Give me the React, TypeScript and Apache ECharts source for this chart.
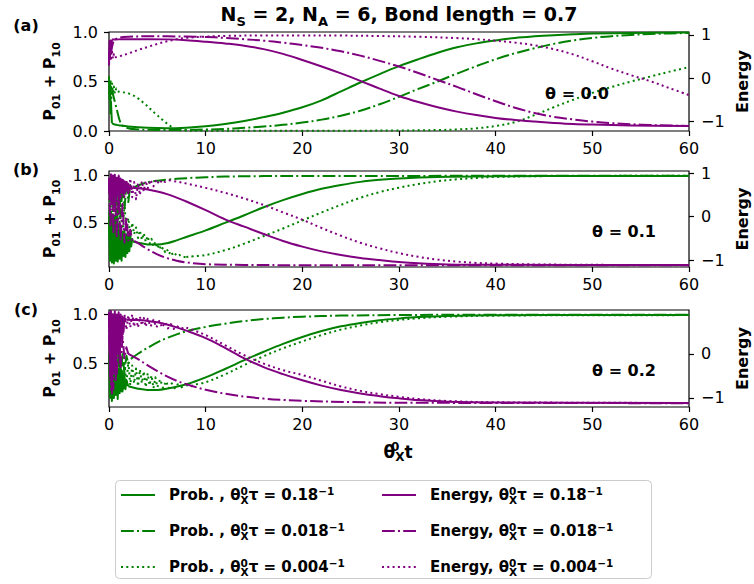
import React, { useEffect, useRef } from 'react';
import * as echarts from 'echarts';

const GREEN = '#008000';
const PURPLE = '#800080';
const FONT = 'DejaVu Sans';

const xTicks = [0, 10, 20, 30, 40, 50, 60];
const thetaLabels = ['θ = 0.0', 'θ = 0.1', 'θ = 0.2'];
const panelTags = ['(a)', '(b)', '(c)'];
const probNames = ['Prob. 0.18', 'Prob. 0.018', 'Prob. 0.004'];
const enNames = ['Energy 0.18', 'Energy 0.018', 'Energy 0.004'];
const tauLabels = ['0.18', '0.018', '0.004'];

// ---------- Panel (a), theta = 0.0 ----------
const aProb018Noise = [[0, 0.55], [0.05, 0.32], [0.1, 0.5], [0.15, 0.18], [0.2, 0.3], [0.3, 0.08]];
const aProb018 = [[0.3, 0.08], [0.6, 0.065], [1, 0.058], [2, 0.045], [4, 0.032], [6, 0.028], [8, 0.034], [10, 0.048], [12, 0.07], [14, 0.1], [16, 0.14], [18, 0.185], [20, 0.24], [22, 0.31], [24, 0.4], [26, 0.49], [28, 0.575], [30, 0.655], [32, 0.725], [34, 0.79], [36, 0.845], [38, 0.885], [40, 0.915], [42, 0.94], [44, 0.956], [46, 0.968], [48, 0.977], [50, 0.984], [54, 0.991], [60, 0.995]];
const aProb0018Noise = [[0, 0.5], [0.15, 0.45], [0.3, 0.42]];
const aProb0018 = [[0.3, 0.42], [0.8, 0.22], [1.3, 0.065], [2, 0.028], [3, 0.016], [4, 0.012], [6, 0.01], [8, 0.011], [10, 0.015], [12, 0.021], [14, 0.032], [16, 0.045], [18, 0.062], [20, 0.085], [22, 0.115], [24, 0.155], [26, 0.205], [28, 0.27], [30, 0.345], [32, 0.425], [34, 0.5], [36, 0.58], [38, 0.655], [40, 0.725], [42, 0.785], [44, 0.835], [46, 0.88], [48, 0.915], [50, 0.94], [52, 0.958], [54, 0.97], [56, 0.98], [58, 0.986], [60, 0.99]];
const aProb0004Noise = [[0, 0.55], [0.08, 0.3], [0.16, 0.52], [0.24, 0.33], [0.32, 0.48], [0.4, 0.36], [0.5, 0.45], [0.6, 0.38], [0.75, 0.43], [0.9, 0.4]];
const aProb0004 = [[0.9, 0.4], [1.5, 0.39], [2, 0.38], [2.5, 0.36], [3, 0.33], [3.5, 0.29], [4, 0.25], [4.5, 0.2], [5, 0.16], [5.5, 0.115], [6, 0.075], [6.5, 0.04], [7, 0.015], [8, 0.004], [10, 0.002], [15, 0.002], [20, 0.002], [25, 0.003], [30, 0.005], [32, 0.007], [34, 0.01], [36, 0.015], [38, 0.027], [40, 0.05], [42, 0.09], [44, 0.16], [46, 0.24], [48, 0.315], [50, 0.385], [52, 0.445], [54, 0.5], [56, 0.55], [58, 0.6], [60, 0.645]];
const aEn018Noise = [[0, 0.3], [0.05, 0.85], [0.1, 0.45], [0.15, 0.87], [0.2, 0.6], [0.3, 0.89]];
const aEn018 = [[0.3, 0.89], [1, 0.895], [2, 0.9], [4, 0.9], [6, 0.895], [8, 0.875], [10, 0.84], [12, 0.8], [14, 0.75], [16, 0.67], [18, 0.56], [20, 0.42], [22, 0.27], [24, 0.11], [26, -0.06], [28, -0.24], [30, -0.41], [32, -0.55], [34, -0.67], [36, -0.77], [38, -0.85], [40, -0.915], [42, -0.965], [44, -1.0], [46, -1.03], [48, -1.055], [50, -1.07], [54, -1.09], [60, -1.1]];
const aEn0018Noise = [[0, 0.4], [0.1, 0.75], [0.2, 0.55]];
const aEn0018 = [[0.2, 0.55], [0.5, 0.86], [1, 0.93], [2, 0.958], [4, 0.965], [6, 0.965], [8, 0.96], [10, 0.95], [12, 0.93], [14, 0.9], [16, 0.865], [18, 0.82], [20, 0.765], [22, 0.7], [24, 0.62], [26, 0.52], [28, 0.4], [30, 0.27], [32, 0.12], [34, -0.04], [36, -0.2], [38, -0.37], [40, -0.53], [42, -0.68], [44, -0.8], [46, -0.89], [48, -0.95], [50, -1.0], [52, -1.035], [54, -1.06], [56, -1.08], [58, -1.09], [60, -1.1]];
const aEn0004Noise = [[0, 0.3], [0.1, 0.7], [0.2, 0.4], [0.3, 0.65], [0.4, 0.45], [0.5, 0.55], [0.6, 0.48]];
const aEn0004 = [[0.6, 0.48], [1, 0.5], [2, 0.57], [3, 0.65], [4, 0.72], [5, 0.79], [6, 0.85], [7, 0.9], [8, 0.93], [10, 0.96], [12, 0.975], [16, 0.985], [20, 0.987], [24, 0.983], [28, 0.972], [32, 0.955], [36, 0.925], [38, 0.9], [40, 0.865], [42, 0.82], [44, 0.76], [46, 0.67], [48, 0.55], [50, 0.39], [52, 0.22], [54, 0.07], [56, -0.07], [58, -0.23], [60, -0.39]];

// ---------- Panel (b), theta = 0.1 ----------
const bProb018Noise = [[0, 0.5], [0.1, 0.1], [0.2, 0.55], [0.3, 0.08], [0.4, 0.5], [0.5, 0.07], [0.6, 0.45], [0.7, 0.1], [0.8, 0.5], [0.9, 0.09], [1, 0.42], [1.1, 0.12], [1.2, 0.45], [1.3, 0.1], [1.4, 0.4], [1.5, 0.15], [1.6, 0.42], [1.7, 0.14], [1.8, 0.38], [1.9, 0.18], [2, 0.4], [2.1, 0.2], [2.2, 0.36], [2.3, 0.25], [2.4, 0.33], [2.5, 0.3]];
const bProb018 = [[2.5, 0.3], [3, 0.29], [4, 0.272], [5, 0.27], [6, 0.285], [7, 0.315], [8, 0.35], [10, 0.42], [12, 0.5], [14, 0.58], [16, 0.665], [18, 0.74], [20, 0.805], [22, 0.86], [24, 0.9], [26, 0.933], [28, 0.955], [30, 0.97], [34, 0.985], [40, 0.992], [50, 0.995], [60, 0.995]];
const bProb0018Noise = [[0, 0.5], [0.15, 0.9], [0.3, 0.2], [0.45, 0.85], [0.6, 0.3], [0.75, 0.9], [0.9, 0.4], [1.05, 0.93], [1.2, 0.55], [1.4, 0.92], [1.6, 0.65], [1.8, 0.9], [2, 0.72], [2.2, 0.9], [2.5, 0.87]];
const bProb0018 = [[2.5, 0.87], [3, 0.895], [4, 0.928], [5, 0.945], [6, 0.957], [8, 0.972], [10, 0.982], [12, 0.989], [16, 0.994], [24, 0.996], [60, 0.997]];
const bProb0004Noise = [[0, 0.45], [0.2, 0.15], [0.4, 0.6], [0.6, 0.2], [0.8, 0.75], [1, 0.3], [1.2, 0.85], [1.4, 0.35], [1.6, 0.7], [1.8, 0.4], [2, 0.55], [2.2, 0.35], [2.4, 0.5], [2.6, 0.38], [2.8, 0.45], [3, 0.34], [3.2, 0.42], [3.4, 0.32], [3.6, 0.39], [3.8, 0.3], [4, 0.36], [4.2, 0.28], [4.4, 0.33], [4.6, 0.25], [4.8, 0.3], [5, 0.23], [5.2, 0.27], [5.4, 0.21], [5.6, 0.24], [5.8, 0.19], [6, 0.22], [6.2, 0.17], [6.4, 0.2], [6.6, 0.16], [6.8, 0.18], [7, 0.15], [7.3, 0.16], [7.6, 0.14], [8, 0.14]];
const bProb0004 = [[8, 0.14], [10, 0.16], [12, 0.21], [14, 0.28], [16, 0.36], [18, 0.44], [20, 0.525], [22, 0.61], [24, 0.69], [26, 0.765], [28, 0.825], [30, 0.872], [32, 0.91], [34, 0.94], [36, 0.96], [38, 0.975], [40, 0.985], [44, 0.993], [50, 0.996], [60, 0.997]];
const bEn018Noise = [[0, 0.9], [0.1, 0.4], [0.2, 0.98], [0.3, 0.3], [0.4, 0.95], [0.5, 0.45], [0.6, 0.97], [0.7, 0.35], [0.8, 0.9], [0.9, 0.5], [1, 0.92], [1.1, 0.4], [1.2, 0.88], [1.3, 0.55], [1.4, 0.85], [1.5, 0.5], [1.6, 0.82], [1.7, 0.58], [1.8, 0.8], [1.9, 0.6], [2, 0.76], [2.1, 0.62], [2.2, 0.72], [2.3, 0.64], [2.5, 0.66]];
const bEn018 = [[2.5, 0.66], [3, 0.655], [4, 0.625], [5, 0.58], [6, 0.52], [7, 0.44], [8, 0.35], [10, 0.15], [12, -0.06], [14, -0.23], [16, -0.4], [18, -0.56], [20, -0.69], [22, -0.8], [24, -0.885], [26, -0.95], [28, -1.0], [30, -1.045], [32, -1.075], [35, -1.1], [40, -1.11], [60, -1.115]];
const bEn0018Noise = [[0, 0.8], [0.15, -0.2], [0.3, 0.9], [0.45, -0.4], [0.6, 0.7], [0.8, -0.5], [1, 0.5], [1.2, -0.55], [1.4, 0.3], [1.6, -0.6], [1.8, 0.0], [2, -0.55], [2.2, -0.3], [2.4, -0.55], [2.6, -0.56]];
const bEn0018 = [[2.6, -0.56], [3, -0.61], [4, -0.75], [5, -0.87], [6, -0.955], [7, -1.015], [8, -1.055], [10, -1.095], [14, -1.112], [20, -1.118], [60, -1.12]];
const bEn0004Noise = [[0, 0.6], [0.2, 0.95], [0.4, 0.2], [0.6, 0.9], [0.8, 0.3], [1, 0.95], [1.2, 0.4], [1.4, 0.9], [1.6, 0.45], [1.8, 0.85], [2, 0.5], [2.2, 0.88], [2.4, 0.45], [2.6, 0.8], [2.8, 0.4], [3, 0.78], [3.2, 0.5], [3.4, 0.82], [3.6, 0.58], [3.8, 0.83], [4, 0.65], [4.3, 0.85], [4.6, 0.7], [4.9, 0.86], [5.2, 0.75], [5.5, 0.85], [5.8, 0.8], [6.2, 0.84]];
const bEn0004 = [[6.2, 0.84], [7, 0.81], [8, 0.765], [10, 0.665], [12, 0.55], [14, 0.42], [16, 0.27], [18, 0.1], [20, -0.07], [22, -0.26], [24, -0.44], [26, -0.6], [28, -0.73], [30, -0.84], [32, -0.925], [34, -0.99], [36, -1.035], [38, -1.065], [40, -1.082], [44, -1.1], [50, -1.11], [60, -1.115]];

// ---------- Panel (c), theta = 0.2 ----------
const cProb018Noise = [[0, 0.6], [0.1, 0.15], [0.2, 0.63], [0.3, 0.12], [0.4, 0.58], [0.5, 0.15], [0.6, 0.55], [0.7, 0.18], [0.8, 0.5], [0.9, 0.14], [1, 0.45], [1.1, 0.2], [1.2, 0.48], [1.3, 0.22], [1.4, 0.42], [1.5, 0.25], [1.6, 0.38], [1.7, 0.24], [1.8, 0.33], [2, 0.27]];
const cProb018 = [[2, 0.27], [3, 0.245], [4, 0.232], [5, 0.232], [6, 0.245], [8, 0.29], [10, 0.36], [12, 0.445], [14, 0.535], [16, 0.62], [18, 0.7], [20, 0.77], [22, 0.83], [24, 0.878], [26, 0.913], [28, 0.94], [30, 0.958], [32, 0.972], [35, 0.983], [40, 0.99], [50, 0.993], [60, 0.993]];
const cProb0018Noise = [[0, 0.6], [0.15, 0.2], [0.3, 0.65], [0.45, 0.15], [0.6, 0.6], [0.8, 0.25], [1, 0.62], [1.2, 0.3], [1.4, 0.6], [1.6, 0.4], [1.8, 0.58], [2, 0.5], [2.3, 0.55]];
const cProb0018 = [[2.3, 0.55], [3, 0.6], [4, 0.66], [5, 0.715], [6, 0.76], [7, 0.797], [8, 0.828], [10, 0.872], [12, 0.905], [14, 0.932], [16, 0.952], [18, 0.966], [20, 0.976], [24, 0.987], [30, 0.993], [40, 0.996], [60, 0.997]];
const cProb0004Noise = [[0, 0.5], [0.2, 0.15], [0.4, 0.55], [0.6, 0.2], [0.8, 0.6], [1, 0.25], [1.2, 0.55], [1.4, 0.2], [1.6, 0.5], [1.8, 0.3], [2, 0.52], [2.2, 0.28], [2.4, 0.48], [2.6, 0.3], [2.8, 0.45], [3, 0.27], [3.2, 0.44], [3.4, 0.3], [3.6, 0.42], [3.8, 0.26], [4, 0.4], [4.2, 0.28], [4.4, 0.38], [4.6, 0.25], [4.8, 0.36], [5, 0.26], [5.3, 0.34], [5.6, 0.25], [5.9, 0.32], [6.2, 0.25], [6.5, 0.3], [6.8, 0.25], [7.1, 0.29], [7.5, 0.26], [8, 0.28], [8.5, 0.27], [9, 0.29]];
const cProb0004 = [[9, 0.29], [10, 0.31], [12, 0.39], [14, 0.485], [16, 0.575], [18, 0.655], [20, 0.725], [22, 0.79], [24, 0.845], [26, 0.887], [28, 0.92], [30, 0.943], [32, 0.96], [35, 0.976], [40, 0.987], [50, 0.991], [60, 0.992]];
const cEn018Noise = [[0, 0.95], [0.1, -0.5], [0.2, 0.98], [0.3, -0.9], [0.4, 0.9], [0.5, -0.3], [0.6, 0.97], [0.7, -0.6], [0.8, 0.9], [0.9, 0.0], [1, 0.95], [1.1, -0.2], [1.2, 0.88], [1.3, 0.3], [1.4, 0.85], [1.5, 0.5], [1.6, 0.82], [1.8, 0.78]];
const cEn018 = [[1.8, 0.78], [3, 0.77], [4, 0.752], [5, 0.72], [6, 0.67], [7, 0.605], [8, 0.53], [10, 0.36], [12, 0.14], [14, -0.1], [16, -0.3], [18, -0.46], [20, -0.6], [22, -0.72], [24, -0.82], [26, -0.9], [28, -0.96], [30, -1.01], [32, -1.05], [35, -1.085], [40, -1.105], [60, -1.115]];
const cEn0018Noise = [[0, 0.9], [0.15, -0.6], [0.3, 0.8], [0.45, -0.8], [0.6, 0.7], [0.8, -0.5], [1, 0.6], [1.2, -0.3], [1.4, 0.4], [1.6, -0.1], [1.8, 0.15], [2, 0.0]];
const cEn0018 = [[2, 0.0], [3, -0.12], [4, -0.26], [5, -0.39], [6, -0.51], [7, -0.61], [8, -0.69], [10, -0.815], [12, -0.905], [14, -0.97], [16, -1.015], [18, -1.045], [20, -1.067], [25, -1.095], [30, -1.11], [60, -1.12]];
const cEn0004Noise = [[0, 0.9], [0.2, -0.8], [0.4, 0.95], [0.6, -0.4], [0.8, 0.9], [1, 0.2], [1.2, 0.92], [1.4, 0.4], [1.6, 0.9], [1.8, 0.55], [2, 0.88], [2.2, 0.6], [2.4, 0.9], [2.6, 0.62], [2.8, 0.85], [3, 0.6], [3.2, 0.85], [3.4, 0.65], [3.6, 0.82], [3.8, 0.62], [4, 0.8], [4.3, 0.62], [4.6, 0.78], [4.9, 0.6], [5.2, 0.75], [5.5, 0.6], [5.8, 0.72], [6.1, 0.58], [6.4, 0.68], [6.7, 0.57], [7, 0.64], [7.4, 0.58], [8, 0.6]];
const cEn0004 = [[8, 0.6], [9, 0.52], [10, 0.43], [12, 0.2], [14, -0.03], [16, -0.22], [18, -0.37], [20, -0.48], [22, -0.61], [24, -0.74], [26, -0.84], [28, -0.915], [30, -0.975], [32, -1.025], [35, -1.07], [40, -1.1], [60, -1.115]];

// axis ranges (left: P01+P10, right: Energy)
const leftRanges = [[0, 1], [0.033, 1.048], [0.059, 1.044]];
const rightRanges = [[-1.217, 1.065], [-1.16, 1.054], [-1.207, 1.0]];
const leftTicks = [[0, 0.5, 1], [0.5, 1], [0.5, 1]];
const rightTicks = [[-1, 0, 1], [-1, 0, 1], [-1, 0]];

const PLOT_LEFT = 109;
const PLOT_RIGHT = 689;
const grids = [
  { top: 32, height: 99 },
  { top: 171, height: 96 },
  { top: 310, height: 97 },
];
const thetaPos = [[577, 93], [624, 231], [624, 370]];
const tagPos = [[26, 25], [26, 169], [26, 309]];

const DASH: Record<string, any> = {
  solid: 'solid',
  dashdot: [12.8, 3.2, 2, 3.2],
  dotted: [2, 3.3],
};
const kinds = ['solid', 'dashdot', 'dotted'];

const panelData = [
  {
    prob: [[aProb018Noise, aProb018], [aProb0018Noise, aProb0018], [aProb0004Noise, aProb0004]],
    en: [[aEn018Noise, aEn018], [aEn0018Noise, aEn0018], [aEn0004Noise, aEn0004]],
  },
  {
    prob: [[bProb018Noise, bProb018], [bProb0018Noise, bProb0018], [bProb0004Noise, bProb0004]],
    en: [[bEn018Noise, bEn018], [bEn0018Noise, bEn0018], [bEn0004Noise, bEn0004]],
  },
  {
    prob: [[cProb018Noise, cProb018], [cProb0018Noise, cProb0018], [cProb0004Noise, cProb0004]],
    en: [[cEn018Noise, cEn018], [cEn0018Noise, cEn0018], [cEn0004Noise, cEn0004]],
  },
];

function mkLine(name: string, data: number[][], kind: string, color: string, gi: number, yi: number, smooth: boolean) {
  return {
    type: 'line',
    name,
    data,
    xAxisIndex: gi,
    yAxisIndex: gi * 2 + yi,
    symbol: 'none',
    showSymbol: false,
    smooth: smooth ? 0.35 : false,
    silent: true,
    clip: true,
    lineStyle: { color, width: 2, type: DASH[kind], cap: 'butt', join: 'round' },
    itemStyle: { color },
    emphasis: { disabled: true },
  };
}

function App() {
  const ref = useRef<HTMLDivElement>(null);
  useEffect(() => {
    if (!ref.current) return;
    const chart = echarts.init(ref.current, null, { renderer: 'svg' });

    const txt = { fontFamily: FONT, color: '#000' };
    const series: any[] = [];
    const xAxis: any[] = [];
    const yAxis: any[] = [];
    const grid: any[] = [];

    panelData.forEach((p, gi) => {
      grid.push({
        left: PLOT_LEFT, width: PLOT_RIGHT - PLOT_LEFT, top: grids[gi].top, height: grids[gi].height,
        outerBoundsMode: 'none', containLabel: false,
        show: true, borderColor: '#000', borderWidth: 1.2, backgroundColor: 'transparent',
      });
      xAxis.push({
        type: 'value', gridIndex: gi, min: 0, max: 60, interval: 10,
        axisLine: { show: false, onZero: false },
        axisTick: { show: true, length: 5, lineStyle: { color: '#000', width: 1.2 } },
        axisLabel: { ...txt, fontSize: 16, margin: 9 },
        splitLine: { show: false },
      });
      const nameRich = {
        b: { ...txt, fontSize: 16, fontWeight: 'bold', lineHeight: 24 },
        s: { ...txt, fontSize: 11, fontWeight: 'bold', lineHeight: 11, verticalAlign: 'bottom' },
      };
      yAxis.push({
        type: 'value', gridIndex: gi, position: 'left',
        min: leftRanges[gi][0], max: leftRanges[gi][1],
        name: '{b|P}{s|01}{b| + P}{s|10}', nameLocation: 'middle', nameGap: 46,
        nameTextStyle: { rich: nameRich },
        axisLine: { show: false, onZero: false },
        axisTick: { show: true, length: 5, customValues: leftTicks[gi], lineStyle: { color: '#000', width: 1.2 } },
        axisLabel: { ...txt, fontSize: 16, margin: 11, customValues: leftTicks[gi], formatter: (v: number) => v.toFixed(1) },
        splitLine: { show: false },
      });
      yAxis.push({
        type: 'value', gridIndex: gi, position: 'right',
        min: rightRanges[gi][0], max: rightRanges[gi][1],
        axisLine: { show: false, onZero: false },
        axisTick: { show: true, length: 5, customValues: rightTicks[gi], lineStyle: { color: '#000', width: 1.2 } },
        axisLabel: { ...txt, fontSize: 16, margin: 12, customValues: rightTicks[gi], formatter: (v: number) => (v < 0 ? '\u2212' : '') + Math.abs(v) },
        splitLine: { show: false },
      });
      p.prob.forEach((pair, k) => {
        series.push(mkLine(probNames[k], pair[1], kinds[k], GREEN, gi, 0, true));
        series.push(mkLine('probnoise' + gi + k, pair[0], kinds[k], GREEN, gi, 0, false));
      });
      p.en.forEach((pair, k) => {
        series.push(mkLine(enNames[k], pair[1], kinds[k], PURPLE, gi, 1, true));
        series.push(mkLine('ennoise' + gi + k, pair[0], kinds[k], PURPLE, gi, 1, false));
      });
    });

    const lr = {
      g: { width: 9 },
      t: { ...txt, fontSize: 15, fontWeight: 'bold', lineHeight: 20 },
      z: { ...txt, fontSize: 10.5, fontWeight: 'bold', lineHeight: 10, verticalAlign: 'top', width: 0 },
      x: { ...txt, fontSize: 10.5, fontWeight: 'bold', lineHeight: 10, verticalAlign: 'bottom' },
      p: { ...txt, fontSize: 10.5, fontWeight: 'bold', lineHeight: 10, verticalAlign: 'top' },
    };
    const legendLabel = (name: string) => {
      const isProb = name.startsWith('Prob');
      const k = isProb ? probNames.indexOf(name) : enNames.indexOf(name);
      const head = isProb ? 'Prob. , θ' : 'Energy, θ';
      return `{g| }{t|${head}}{z|0}{x|X}{t|τ = ${tauLabels[k]}}{p|\u22121}`;
    };
    const mkLegend = (names: string[], color: string, left: number) => ({
      orient: 'vertical', left, top: 485, padding: 0, itemGap: 16,
      itemWidth: 34, itemHeight: 14,
      itemStyle: { color: 'transparent', borderColor: 'transparent', borderWidth: 0, opacity: 0 },
      data: names.map((n, k) => ({
        name: n,
        itemStyle: { color: 'transparent', borderColor: 'transparent', borderWidth: 0, opacity: 0 },
        lineStyle: { color, width: 2, type: DASH[kinds[k]], cap: 'butt', opacity: 1 },
      })),
      formatter: legendLabel,
      textStyle: { rich: lr },
      selectedMode: false,
    });

    const graphic: any[] = [
      {
        type: 'rect', z: 0, silent: true,
        shape: { x: 115.5, y: 480.5, width: 536, height: 98, r: 4 },
        style: { fill: '#fff', stroke: '#cccccc', lineWidth: 1 },
      },
      {
        type: 'text', x: 399, y: 14, silent: true,
        style: {
          text: '{b|N}{s|S}{b| = 2, N}{s|A}{b| = 6, Bond length = 0.7}',
          align: 'center', verticalAlign: 'middle',
          rich: {
            b: { fontFamily: FONT, fontSize: 19, fontWeight: 'bold', fill: '#000', lineHeight: 28 },
            s: { fontFamily: FONT, fontSize: 13, fontWeight: 'bold', fill: '#000', lineHeight: 13, verticalAlign: 'bottom' },
          },
        },
      },
      {
        type: 'text', x: 398, y: 452, silent: true,
        style: {
          text: '{b|θ}{z|0}{x|X}{b|t}',
          align: 'center', verticalAlign: 'middle',
          rich: {
            b: { fontFamily: FONT, fontSize: 17, fontWeight: 'bold', fill: '#000', lineHeight: 22 },
            z: { fontFamily: FONT, fontSize: 12, fontWeight: 'bold', fill: '#000', lineHeight: 12, verticalAlign: 'top', width: 0 },
            x: { fontFamily: FONT, fontSize: 12, fontWeight: 'bold', fill: '#000', lineHeight: 12, verticalAlign: 'bottom' },
          },
        },
      },
    ];
    thetaLabels.forEach((t, i) => {
      graphic.push({
        type: 'text', x: thetaPos[i][0], y: thetaPos[i][1], silent: true, z: 10,
        style: { text: t, fontFamily: FONT, fontSize: 16, fontWeight: 'bold', fill: '#000', align: 'center', verticalAlign: 'middle' },
      });
    });
    panelTags.forEach((t, i) => {
      graphic.push({
        type: 'text', x: tagPos[i][0], y: tagPos[i][1], silent: true,
        style: { text: t, fontFamily: FONT, fontSize: 16, fontWeight: 'bold', fill: '#000', align: 'center', verticalAlign: 'middle' },
      });
    });
    grids.forEach((g) => {
      graphic.push({
        type: 'text', x: 742, y: g.top + g.height / 2, rotation: Math.PI / 2, silent: true,
        style: { text: 'Energy', fontFamily: FONT, fontSize: 16, fontWeight: 'bold', fill: '#000', align: 'center', verticalAlign: 'middle' },
      });
    });

    chart.setOption({
      animation: false,
      backgroundColor: '#fff',
      grid,
      xAxis,
      yAxis,
      series,
      legend: [mkLegend(probNames, GREEN, 120), mkLegend(enNames, PURPLE, 381)],
      graphic,
    });
    return () => chart.dispose();
  }, []);
  return <div ref={ref} style={{ position: 'absolute', left: 0, top: 0, width: 754, height: 584 }} />;
}

export default App;
